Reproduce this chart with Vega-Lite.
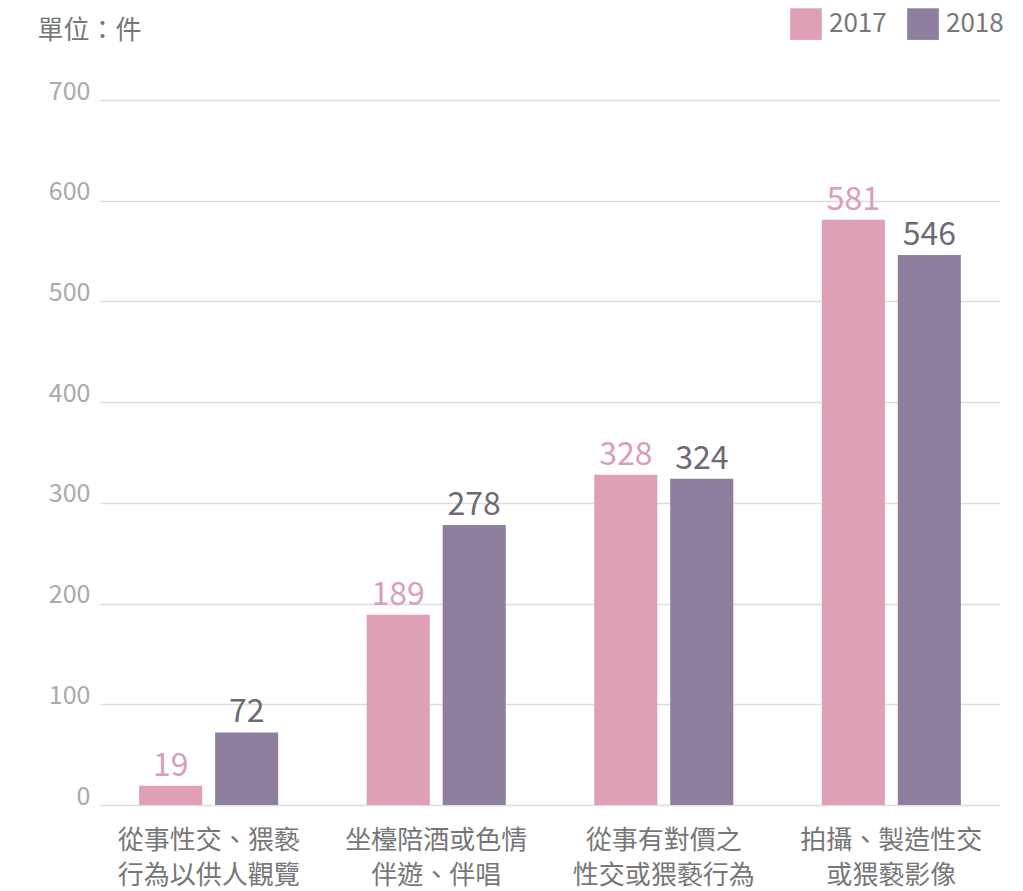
{
  "$schema": "https://vega.github.io/schema/vega-lite/v6.json",
  "autosize": "none",
  "width": 900,
  "height": 705,
  "padding": {"left": 100, "top": 100, "right": 23, "bottom": 86},
  "background": "white",
  "config": {
    "font": "Noto Sans CJK TC",
    "view": {"stroke": null}
  },
  "data": {
    "values": [
      {"category": "從事性交、猥褻|行為以供人觀覽", "year": "2017", "count": 19},
      {"category": "從事性交、猥褻|行為以供人觀覽", "year": "2018", "count": 72},
      {"category": "坐檯陪酒或色情|伴遊、伴唱", "year": "2017", "count": 189},
      {"category": "坐檯陪酒或色情|伴遊、伴唱", "year": "2018", "count": 278},
      {"category": "從事有對價之|性交或猥褻行為", "year": "2017", "count": 328},
      {"category": "從事有對價之|性交或猥褻行為", "year": "2018", "count": 324},
      {"category": "拍攝、製造性交|或猥褻影像", "year": "2017", "count": 581},
      {"category": "拍攝、製造性交|或猥褻影像", "year": "2018", "count": 546}
    ]
  },
  "encoding": {
    "x": {
      "field": "category",
      "type": "nominal",
      "sort": null,
      "scale": {"paddingInner": 0.389, "paddingOuter": 0.172},
      "axis": {
        "title": null,
        "labelExpr": "split(datum.label, '|')",
        "labelAngle": 0,
        "labelFontSize": 26,
        "labelColor": "#777777",
        "labelPadding": 22,
        "labelLineHeight": 35,
        "labelLimit": 0,
        "domain": false,
        "ticks": false
      }
    },
    "xOffset": {
      "field": "year",
      "type": "nominal",
      "scale": {"paddingInner": 0.17}
    },
    "y": {
      "field": "count",
      "type": "quantitative",
      "scale": {"domain": [0, 700], "nice": false},
      "axis": {
        "values": [0, 100, 200, 300, 400, 500, 600, 700],
        "title": "單位：件",
        "titleAngle": 0,
        "titleAlign": "left",
        "titleBaseline": "top",
        "titleX": -63,
        "titleY": -83,
        "titleFontSize": 26,
        "titleFontWeight": "normal",
        "titleColor": "#777777",
        "labelFontSize": 25,
        "labelColor": "#aaaaaa",
        "labelBaseline": "alphabetic",
        "labelOffset": -1,
        "labelPadding": 10,
        "domain": false,
        "ticks": false,
        "gridColor": "#dddddd",
        "gridWidth": 1.5
      }
    }
  },
  "layer": [
    {
      "mark": {"type": "bar"},
      "encoding": {
        "color": {
          "field": "year",
          "type": "nominal",
          "scale": {"domain": ["2017", "2018"], "range": ["#dfa0b6", "#8e7f9e"]},
          "legend": {
            "orient": "none",
            "legendX": 690,
            "legendY": -92,
            "direction": "horizontal",
            "title": null,
            "symbolType": "square",
            "symbolSize": 1000,
            "symbolStrokeWidth": 0,
            "symbolOpacity": 1,
            "labelFontSize": 26,
            "labelColor": "#777777",
            "labelOffset": 7,
            "columnPadding": 20
          }
        }
      }
    },
    {
      "mark": {"type": "text", "baseline": "alphabetic", "dy": -10, "fontSize": 32},
      "encoding": {
        "text": {"field": "count", "type": "quantitative"},
        "color": {
          "field": "year",
          "type": "nominal",
          "scale": {"domain": ["2017", "2018"], "range": ["#d9a0b4", "#6e6a73"]},
          "legend": null
        }
      }
    }
  ],
  "resolve": {"scale": {"color": "independent"}}
}
